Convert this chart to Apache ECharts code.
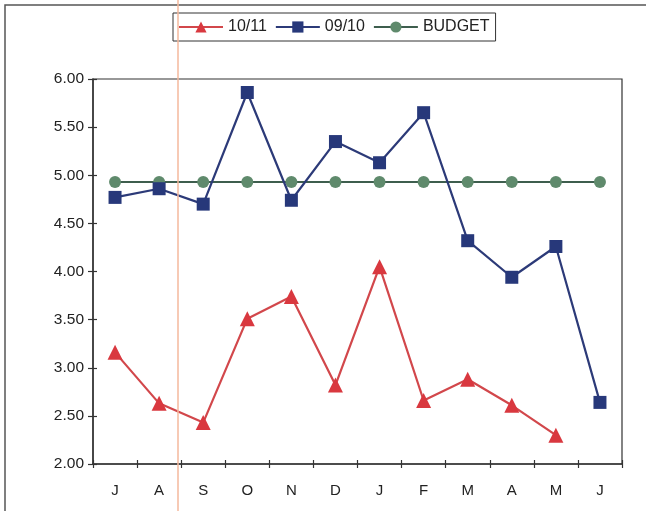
<!DOCTYPE html>
<html>
<head>
<meta charset="utf-8">
<script src="https://cdn.jsdelivr.net/npm/echarts@6/dist/echarts.min.js"></script>
<style>
  html, body { margin: 0; padding: 0; background: #ffffff; }
  #chart { width: 646px; height: 511px; }
</style>
</head>
<body>
<div id="chart"></div>
<script>
// Month categories (July to June)
const months = ['J', 'A', 'S', 'O', 'N', 'D', 'J', 'F', 'M', 'A', 'M', 'J'];

// Monthly values per season
const season1011 = [3.16, 2.63, 2.43, 3.51, 3.74, 2.82, 4.05, 2.66, 2.88, 2.61, 2.30, null];
const season0910 = [4.77, 4.86, 4.70, 5.86, 4.74, 5.35, 5.13, 5.65, 4.32, 3.94, 4.26, 2.64];
const budget = [4.93, 4.93, 4.93, 4.93, 4.93, 4.93, 4.93, 4.93, 4.93, 4.93, 4.93, 4.93];

const yTicks = { min: 2, max: 6, interval: 0.5 };

const axisColor = '#333333';
const labelColor = '#222222';
const fontFamily = '"Liberation Sans", Arial, sans-serif';

const chart = echarts.init(document.getElementById('chart'), null, { renderer: 'canvas' });

chart.setOption({
  backgroundColor: '#ffffff',
  animation: false,
  textStyle: { fontFamily: fontFamily },
  graphic: [
    {
      type: 'rect',
      shape: { x: 5, y: 5, width: 700, height: 600 },
      style: { fill: 'none', stroke: '#555555', lineWidth: 1.5 },
      z: 0
    },
    {
      type: 'line',
      shape: { x1: 178, y1: 0, x2: 178, y2: 511 },
      style: { stroke: '#f4b99c', lineWidth: 1.5 },
      z: 100
    }
  ],
  legend: {
    left: 173,
    top: 13,
    orient: 'horizontal',
    borderColor: '#333333',
    borderWidth: 1,
    padding: [6, 6, 6, 5],
    itemGap: 8,
    itemWidth: 44,
    itemHeight: 14,
    textStyle: { fontSize: 16, color: labelColor, fontFamily: fontFamily },
    data: ['10/11', '09/10', 'BUDGET']
  },
  grid: {
    left: 93,
    top: 79,
    width: 529,
    height: 385,
    show: true,
    borderColor: axisColor,
    borderWidth: 1.2,
    backgroundColor: 'transparent'
  },
  xAxis: [
    {
      type: 'category',
      data: months,
      boundaryGap: true,
      axisLine: { show: true, lineStyle: { color: axisColor, width: 1.5 } },
      axisTick: { show: true, alignWithLabel: false, length: 4, lineStyle: { color: axisColor, width: 1.2 } },
      axisLabel: { color: labelColor, fontSize: 15, margin: 19, fontFamily: fontFamily },
      splitLine: { show: false }
    },
    {
      type: 'category',
      data: months,
      position: 'bottom',
      boundaryGap: true,
      axisLine: { show: false },
      axisTick: { show: true, inside: true, alignWithLabel: false, length: 4, lineStyle: { color: axisColor, width: 1.2 } },
      axisLabel: { show: false },
      splitLine: { show: false }
    }
  ],
  yAxis: [
    {
      type: 'value',
      min: yTicks.min,
      max: yTicks.max,
      interval: yTicks.interval,
      axisLine: { show: true, lineStyle: { color: axisColor, width: 1.5 } },
      axisTick: { show: true, length: 5, lineStyle: { color: axisColor, width: 1.2 } },
      axisLabel: {
        color: labelColor,
        fontSize: 15.5,
        margin: 9,
        fontFamily: fontFamily,
        formatter: v => v.toFixed(2)
      },
      splitLine: { show: false }
    },
    {
      type: 'value',
      position: 'left',
      min: yTicks.min,
      max: yTicks.max,
      interval: yTicks.interval,
      axisLine: { show: false },
      axisTick: { show: true, inside: true, length: 4, lineStyle: { color: axisColor, width: 1.2 } },
      axisLabel: { show: false },
      splitLine: { show: false }
    }
  ],
  series: [
    {
      name: '10/11',
      type: 'line',
      data: season1011,
      symbol: 'triangle',
      symbolSize: 15,
      lineStyle: { color: '#d2474b', width: 2.2 },
      itemStyle: { color: '#d9383f' },
      z: 4
    },
    {
      name: '09/10',
      type: 'line',
      data: season0910,
      symbol: 'rect',
      symbolSize: 13,
      lineStyle: { color: '#2c3a78', width: 2.2 },
      itemStyle: { color: '#27387a' },
      z: 3
    },
    {
      name: 'BUDGET',
      type: 'line',
      data: budget,
      symbol: 'circle',
      symbolSize: 12,
      lineStyle: { color: '#3e5e4e', width: 2.2 },
      itemStyle: { color: '#5f8a6c' },
      z: 2
    }
  ]
});
</script>
</body>
</html>
